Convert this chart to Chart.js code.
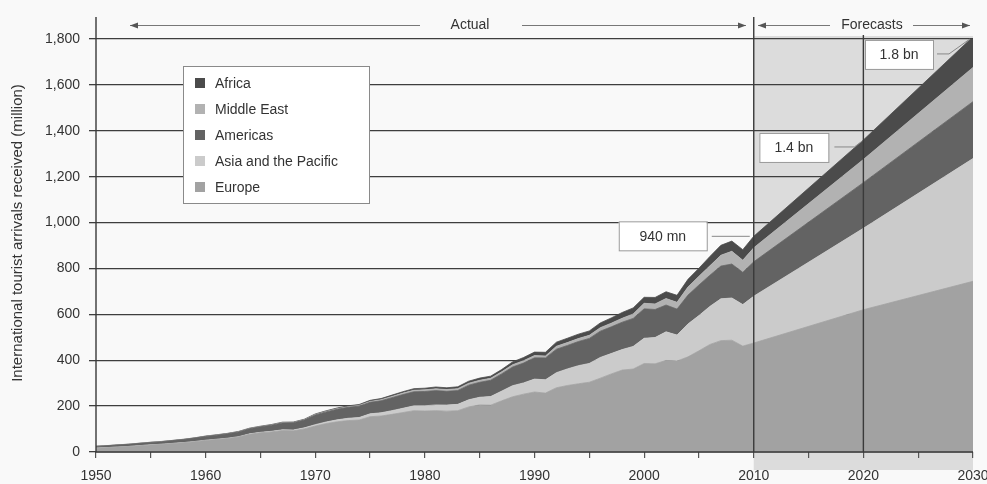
<!DOCTYPE html>
<html>
<head>
<meta charset="utf-8">
<script src="https://cdn.jsdelivr.net/npm/chart.js@4.4.1/dist/chart.umd.min.js"></script>
<style>
  html, body { margin: 0; padding: 0; background: #f9f9f9; }
</style>
</head>
<body>
<canvas id="arrivalsChart" width="987" height="484"></canvas>
<script>
// years: actual data 1950-2009, forecasts 2010/2020/2030
const years = [
  1950, 1951, 1952, 1953, 1954, 1955, 1956, 1957, 1958, 1959,
  1960, 1961, 1962, 1963, 1964, 1965, 1966, 1967, 1968, 1969,
  1970, 1971, 1972, 1973, 1974, 1975, 1976, 1977, 1978, 1979,
  1980, 1981, 1982, 1983, 1984, 1985, 1986, 1987, 1988, 1989,
  1990, 1991, 1992, 1993, 1994, 1995, 1996, 1997, 1998, 1999,
  2000, 2001, 2002, 2003, 2004, 2005, 2006, 2007, 2008, 2009,
  2010, 2020, 2030,
];

const europe = [
  16.8, 19.0, 21.5, 24.0, 27.5, 30.8, 33.5, 37.0, 40.5, 45.0,
  50.4, 54.5, 58.8, 65.2, 77.0, 83.7, 87.6, 93.4, 92.3, 100.7,
  113.0, 123.9, 131.6, 137.0, 139.3, 153.9, 156.7, 164.0, 172.0, 180.0,
  178.5, 180.3, 178.0, 180.0, 196.4, 205.2, 204.1, 222.9, 240.6, 252.0,
  261.5, 256.7, 280.0, 289.8, 297.3, 304.0, 321.7, 340.2, 357.1, 361.6,
  385.6, 384.4, 398.9, 396.3, 414.6, 441.0, 468.6, 485.4, 487.2, 461.5,
  475, 620, 744,
];

const asiaPacific = [
  0.2, 0.2, 0.3, 0.3, 0.4, 0.5, 0.5, 0.6, 0.7, 0.8,
  0.9, 1.1, 1.3, 1.6, 2.0, 2.1, 2.6, 3.1, 3.6, 4.5,
  6.2, 7.1, 8.6, 10.0, 10.9, 12.5, 14.2, 16.3, 18.5, 21.1,
  23.0, 24.9, 26.6, 27.6, 31.2, 33.4, 37.6, 42.4, 48.4, 49.1,
  56.2, 58.0, 65.8, 72.3, 79.0, 82.0, 90.4, 89.0, 89.4, 98.5,
  110.1, 114.5, 124.9, 113.3, 143.4, 153.6, 166.0, 182.0, 184.1, 180.9,
  204, 355, 535,
];

const americas = [
  7.5, 8.0, 8.6, 9.1, 9.7, 10.3, 11.0, 12.0, 13.2, 14.8,
  16.7, 17.9, 19.4, 20.8, 22.6, 24.0, 26.6, 30.4, 31.6, 34.0,
  42.3, 43.8, 45.9, 47.7, 49.6, 50.0, 52.3, 56.4, 59.8, 61.4,
  62.3, 62.3, 59.7, 60.3, 63.7, 65.1, 70.9, 75.1, 81.2, 86.6,
  92.8, 95.3, 102.2, 102.2, 105.1, 109.0, 114.5, 116.2, 119.2, 122.0,
  128.2, 122.2, 116.7, 113.1, 125.8, 133.3, 135.8, 142.9, 147.8, 140.6,
  150, 199, 248,
];

const middleEast = [
  0.2, 0.2, 0.3, 0.3, 0.3, 0.4, 0.4, 0.4, 0.5, 0.5,
  0.6, 0.7, 0.8, 0.9, 1.0, 1.2, 1.3, 1.3, 1.3, 1.5,
  1.9, 2.1, 2.5, 2.9, 3.3, 4.0, 4.8, 5.6, 6.3, 6.7,
  7.1, 7.8, 8.0, 8.2, 8.5, 8.7, 8.7, 9.0, 10.0, 10.2,
  9.6, 8.4, 12.7, 12.7, 13.0, 13.7, 15.0, 16.0, 17.1, 19.5,
  24.1, 24.2, 28.4, 29.5, 35.4, 37.8, 40.9, 47.2, 55.6, 52.9,
  61, 101, 149,
];

const africa = [
  0.5, 0.5, 0.5, 0.6, 0.6, 0.6, 0.6, 0.7, 0.7, 0.7,
  0.8, 0.9, 1.0, 1.1, 1.2, 1.4, 1.6, 1.7, 1.8, 2.1,
  2.4, 2.8, 3.3, 3.6, 3.9, 4.7, 5.0, 5.6, 6.3, 6.9,
  7.2, 8.0, 7.6, 8.2, 8.9, 9.7, 9.3, 9.8, 12.5, 13.8,
  15.2, 16.2, 18.0, 18.8, 19.1, 18.9, 20.9, 22.8, 25.2, 26.3,
  26.2, 28.3, 29.5, 30.7, 33.3, 35.4, 40.8, 43.2, 44.4, 45.9,
  50, 85, 134,
];

const yTicks = [0, 200, 400, 600, 800, 1000, 1200, 1400, 1600, 1800];

// callouts: [label, year, value]
const callouts = [
  ["940 mn", 2010, 940],
  ["1.4 bn", 2020, 1360],
  ["1.8 bn", 2030, 1809],
];

const FONT = "'Liberation Sans', Arial, Helvetica, sans-serif";
const TEXT = "#333";
const SHADE = "#dcdcdc";

Chart.defaults.font.family = FONT;
Chart.defaults.font.size = 14;
Chart.defaults.color = TEXT;

function series(values) {
  return years.map((x, i) => ({ x, y: values[i] }));
}

function area(label, values, color, fill) {
  return {
    label,
    data: series(values),
    backgroundColor: color,
    borderColor: color,
    borderWidth: 0.8,
    pointRadius: 0,
    tension: 0,
    fill,
  };
}

function arrow(ctx, x1, x2, y, headLeft, headRight) {
  ctx.beginPath();
  ctx.moveTo(x1, y);
  ctx.lineTo(x2, y);
  ctx.stroke();
  const head = (tip, dir) => {
    ctx.beginPath();
    ctx.moveTo(tip, y);
    ctx.lineTo(tip + dir * 8, y - 3);
    ctx.lineTo(tip + dir * 8, y + 3);
    ctx.closePath();
    ctx.fill();
  };
  if (headLeft) head(x1, 1);
  if (headRight) head(x2, -1);
}

function box(ctx, x, y, w, h, text) {
  ctx.fillStyle = "#fff";
  ctx.fillRect(x, y, w, h);
  ctx.strokeStyle = "#9a9a9a";
  ctx.lineWidth = 1;
  ctx.strokeRect(x + 0.5, y + 0.5, w, h);
  ctx.fillStyle = TEXT;
  ctx.textAlign = "center";
  ctx.textBaseline = "middle";
  ctx.fillText(text, x + w / 2, y + h / 2 + 1);
}

const overlay = {
  id: "overlay",
  beforeDraw(chart) {
    const { ctx, scales: { x } } = chart;
    const x0 = x.getPixelForValue(2010);
    const x1 = x.getPixelForValue(2030);
    ctx.save();
    ctx.fillStyle = SHADE;
    ctx.fillRect(x0, 36, x1 - x0, 470 - 36);
    ctx.restore();
  },
  afterDatasetsDraw(chart) {
    const { ctx, chartArea: a, scales: { x } } = chart;
    ctx.save();
    ctx.strokeStyle = "#3a3a3a";
    ctx.lineWidth = 1.4;
    ctx.beginPath();
    // axes
    ctx.moveTo(a.left, 17);
    ctx.lineTo(a.left, a.bottom);
    ctx.lineTo(a.right, a.bottom);
    // 2010 / 2020 dividers
    ctx.moveTo(x.getPixelForValue(2010), 17);
    ctx.lineTo(x.getPixelForValue(2010), a.bottom);
    ctx.moveTo(x.getPixelForValue(2020), 35);
    ctx.lineTo(x.getPixelForValue(2020), a.bottom);
    ctx.stroke();
    ctx.restore();
  },
  afterDraw(chart) {
    const { ctx, scales: { x, y } } = chart;
    ctx.save();
    ctx.font = `14px ${FONT}`;

    // Actual / Forecasts arrows
    ctx.strokeStyle = "#777";
    ctx.fillStyle = "#555";
    ctx.lineWidth = 1;
    const ay = 25.5;
    arrow(ctx, 130, 420, ay, true, false);
    arrow(ctx, 522, 746, ay, false, true);
    arrow(ctx, 758, 830, ay, true, false);
    arrow(ctx, 913, 970, ay, false, true);
    ctx.fillStyle = TEXT;
    ctx.textAlign = "center";
    ctx.textBaseline = "middle";
    ctx.fillText("Actual", 470, ay);
    ctx.fillText("Forecasts", 872, ay);

    // callout boxes with leader lines
    const boxes = [
      { w: 88, dx: -135, dy: -15, lead: [[-42, 0], [-4, 0]] },
      { w: 69, dx: -104, dy: -7, lead: [[-29, 7], [-9, 7], [-1, 1]] },
      { w: 68, dx: -108, dy: 3, lead: [[-36, 17], [-24, 17], [-3, 2]] },
    ];
    callouts.forEach(([label, yr, val], i) => {
      const px = x.getPixelForValue(yr);
      const py = y.getPixelForValue(val);
      const b = boxes[i];
      box(ctx, px + b.dx, py + b.dy, b.w, 29, label);
      ctx.strokeStyle = "#888";
      ctx.lineWidth = 1;
      ctx.beginPath();
      b.lead.forEach(([lx, ly], k) => {
        if (k === 0) ctx.moveTo(px + lx, py + ly);
        else ctx.lineTo(px + lx, py + ly);
      });
      ctx.stroke();
    });

    // legend, top of stack first
    ctx.fillStyle = "#fff";
    ctx.fillRect(183, 66, 186, 137);
    ctx.strokeStyle = "#8a8a8a";
    ctx.strokeRect(183.5, 66.5, 186, 137);
    const items = chart.data.datasets.slice().reverse();
    items.forEach((ds, i) => {
      const cy = 83 + i * 26;
      ctx.fillStyle = ds.backgroundColor;
      ctx.fillRect(195, cy - 5, 10, 10);
      ctx.fillStyle = TEXT;
      ctx.textAlign = "left";
      ctx.textBaseline = "middle";
      ctx.fillText(ds.label, 215, cy + 1);
    });

    // y axis title
    ctx.translate(18, 233);
    ctx.rotate(-Math.PI / 2);
    ctx.font = `15px ${FONT}`;
    ctx.textAlign = "center";
    ctx.fillStyle = TEXT;
    ctx.fillText("International tourist arrivals received (million)", 0, 0);
    ctx.restore();
  },
};

new Chart(document.getElementById("arrivalsChart"), {
  type: "line",
  data: {
    datasets: [
      area("Europe", europe, "#a2a2a2", "origin"),
      area("Asia and the Pacific", asiaPacific, "#cbcbcb", "-1"),
      area("Americas", americas, "#636363", "-1"),
      area("Middle East", middleEast, "#b2b2b2", "-1"),
      area("Africa", africa, "#4b4b4b", "-1"),
    ],
  },
  options: {
    responsive: false,
    animation: false,
    layout: { padding: { top: 39, right: 14, left: 0, bottom: 0 } },
    plugins: { legend: { display: false }, tooltip: { enabled: false } },
    scales: {
      x: {
        type: "linear",
        min: 1950,
        max: 2030,
        afterFit(scale) {
          scale.height = 32;
          scale.paddingLeft = 0;
          scale.paddingRight = 0;
        },
        ticks: {
          stepSize: 5,
          autoSkip: false,
          maxRotation: 0,
          padding: 10,
          color: TEXT,
          callback: (v) => (v % 10 === 0 ? String(v) : ""),
        },
        grid: { drawOnChartArea: false, tickLength: 6, color: "#555", lineWidth: 1.2 },
        border: { display: false },
      },
      y: {
        stacked: true,
        min: 0,
        max: 1800,
        afterFit(scale) {
          scale.width = 96;
        },
        afterBuildTicks(scale) {
          scale.ticks = yTicks.map((value) => ({ value }));
        },
        ticks: {
          padding: 9,
          color: TEXT,
          callback: (v) => v.toLocaleString("en-US"),
        },
        grid: { color: "#3e3e3e", lineWidth: 1.3, tickLength: 7 },
        border: { display: false },
      },
    },
  },
  plugins: [overlay],
});
</script>
</body>
</html>
